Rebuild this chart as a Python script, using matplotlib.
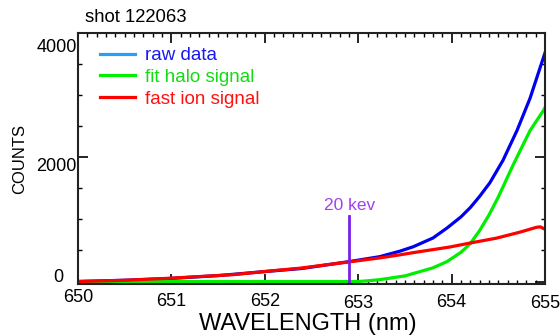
import matplotlib
matplotlib.use("Agg")
import matplotlib.pyplot as plt
from matplotlib.ticker import MultipleLocator
from matplotlib.transforms import ScaledTranslation

plt.rcParams["font.family"] = ["Liberation Sans", "DejaVu Sans"]

# values
raw_wl = [650.0, 650.5, 651.0, 651.5, 652.0, 652.4, 652.9, 653.23, 653.45, 653.59,
          653.8, 653.95, 654.1, 654.2, 654.3, 654.41, 654.55, 654.7, 654.84, 654.98, 655.0]
raw_counts = [0, 20, 50, 95, 160, 210, 320, 400, 490, 560,
              700, 860, 1040, 1190, 1370, 1590, 1950, 2430, 2950, 3590, 3680]
halo_wl = [650.0, 652.5, 653.0, 653.09, 653.23, 653.5, 653.8, 653.95, 654.1, 654.2,
           654.3, 654.4, 654.5, 654.66, 654.84, 654.98, 655.0]
halo_counts = [0, 0, 0, 10, 30, 90, 220, 320, 470, 610,
               820, 1070, 1360, 1880, 2430, 2745, 2800]
fast_wl = [650.0, 650.5, 650.95, 651.3, 651.66, 652.13, 652.38, 652.91, 653.23, 653.45,
           653.59, 653.98, 654.2, 654.48, 654.73, 654.91, 654.95, 655.0]
fast_counts = [0, 20, 50, 80, 110, 180, 215, 317, 380, 430,
               465, 555, 620, 698, 794, 873, 880, 841]
marker_wl = 652.9
marker_top = 1050
marker_label = "20 kev"
legend_labels = ["raw data", "fit halo signal", "fast ion signal"]

fig = plt.figure(figsize=(5.6, 3.35), dpi=100)
ax = fig.add_axes([78 / 560, 1 - 284 / 335, 467 / 560, 251 / 335])

ax.plot(raw_wl, raw_counts, color="#0000ee", lw=2.3)
ax.plot(halo_wl, halo_counts, color="#00ee00", lw=2.3)
ax.plot(fast_wl, fast_counts, color="#ff0000", lw=2.3)
ax.plot([marker_wl, marker_wl], [0, marker_top], color="#7a1fe8", lw=2.0)
ax.text(marker_wl + 0.01, 1230, marker_label, color="#a040f0", fontsize=12.5,
        ha="center", va="center")

ax.set_xlim(650, 655)
ax.set_ylim(-40, 4000)
ax.xaxis.set_major_locator(MultipleLocator(1))
ax.xaxis.set_minor_locator(MultipleLocator(0.1))
ax.yaxis.set_major_locator(MultipleLocator(2000))
ax.yaxis.set_minor_locator(MultipleLocator(500))
ax.tick_params(which="both", direction="in", top=True, right=True, labelsize=13)
ax.tick_params(which="major", length=7, width=1.2)
ax.tick_params(which="minor", length=3, width=1.0)
ax.tick_params(axis="x", pad=6.5)
ax.tick_params(axis="y", pad=1)
for s in ax.spines.values():
    s.set_linewidth(1.5)
    s.set_color("#222222")

# the reference's tick labels sit a little off their ticks
fig.canvas.draw()
y_shift = {0: (-13, 6), 2000: (0, -7), 4000: (0, -12)}
for lab, val in zip(ax.get_yticklabels(), ax.get_yticks()):
    dx, dy = y_shift.get(int(round(val)), (0, 0))
    lab.set_transform(lab.get_transform() + ScaledTranslation(dx / 100, dy / 100, fig.dpi_scale_trans))
x_shift = {650: 4, 653: -2, 654: -1, 655: -2}
for lab, val in zip(ax.get_xticklabels(), ax.get_xticks()):
    dy = x_shift.get(int(round(val)), 0)
    lab.set_transform(lab.get_transform() + ScaledTranslation(0, dy / 100, fig.dpi_scale_trans))

ax.set_xlabel("WAVELENGTH (nm)", fontsize=17)
ax.xaxis.set_label_coords(0.493, -0.115)
ax.set_ylabel("COUNTS", fontsize=12)
ax.yaxis.set_label_coords(-0.109, 0.5)
fig.text(85 / 560, 1 - 18 / 335, "shot 122063", fontsize=13.3, ha="left", va="center")

h1, = ax.plot([], [], color="#2a9df4", lw=2.3)
h2, = ax.plot([], [], color="#00ee00", lw=2.3)
h3, = ax.plot([], [], color="#ff0000", lw=2.3)
leg = ax.legend([h1, h2, h3], legend_labels, loc="upper left",
                bbox_to_anchor=(0.031, 0.974), borderaxespad=0, borderpad=0.4,
                frameon=False, fontsize=13.5, handlelength=1.87, handletextpad=0.53,
                labelspacing=0.25)
for t, c in zip(leg.get_texts(), ["#1a1aee", "#11dd11", "#ff1111"]):
    t.set_color(c)

fig.savefig("out.png", dpi=100)
